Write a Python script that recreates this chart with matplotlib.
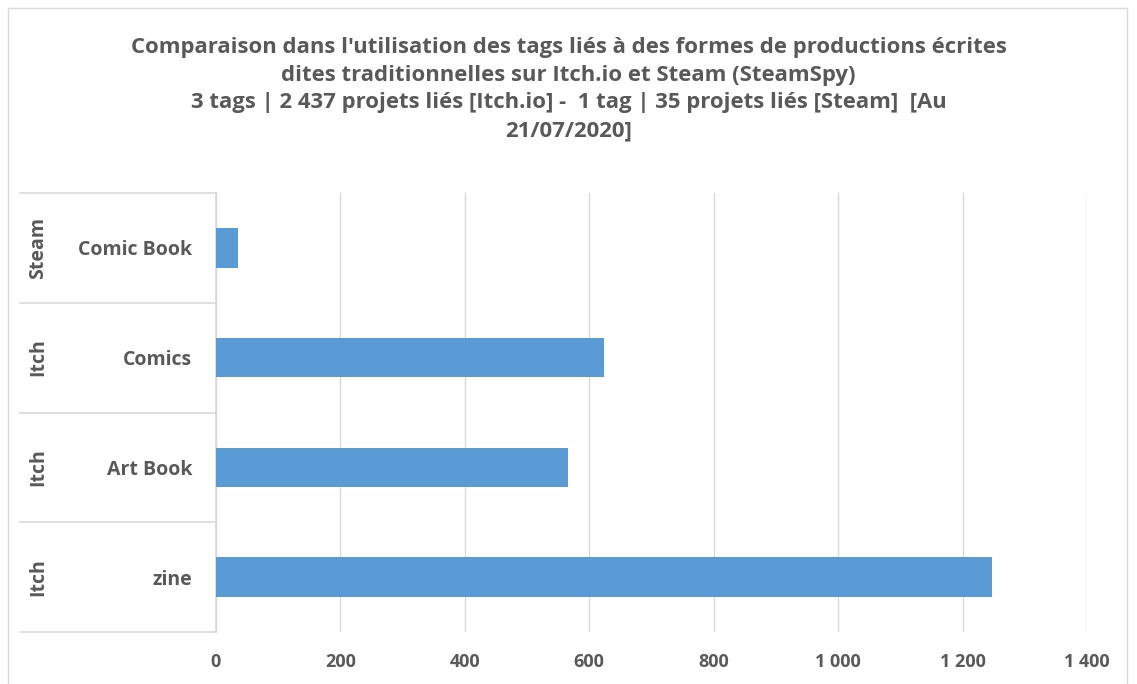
import numpy as np
import matplotlib.pyplot as plt
from matplotlib.patches import Rectangle
from matplotlib.ticker import FuncFormatter
import matplotlib.transforms as mtransforms

plt.rcParams['font.family'] = ['Liberation Sans Narrow', 'Open Sans', 'DejaVu Sans']

# data (bottom to top, as drawn)
tags = ["zine", "Art Book", "Comics", "Comic Book"]
platforms = ["Itch", "Itch", "Itch", "Steam"]
projects = [1248, 566, 623, 35]

title = ("Comparaison dans l'utilisation des tags liés à des formes de productions écrites\n"
         "dites traditionnelles sur Itch.io et Steam (SteamSpy)\n"
         "3 tags | 2 437 projets liés [Itch.io] -  1 tag | 35 projets liés [Steam]  [Au\n"
         "21/07/2020]")

txt = "#595959"
grid = "#d9d9d9"

fig = plt.figure(figsize=(11.37, 6.84), dpi=100)
fig.patches.append(Rectangle((8 / 1137, -0.01), 1119 / 1137, 1 - 8 / 684 + 0.01,
                             transform=fig.transFigure, fill=False,
                             edgecolor=grid, linewidth=1))

ax = fig.add_axes([216 / 1137, 1 - 632 / 684, (1087 - 216) / 1137, (632 - 193) / 684])
y = np.arange(len(tags))
ax.barh(y, projects, height=0.36, color="#5b9bd5", zorder=3)

ax.set_xlim(0, 1400)
ax.set_ylim(-0.5, len(tags) - 0.5)
ax.set_xticks(np.arange(0, 1401, 200))
ax.xaxis.set_major_formatter(FuncFormatter(lambda v, p: f"{int(v):,}".replace(",", " ")))
ax.grid(axis="x", color=grid, linewidth=1, zorder=0)
ax.tick_params(axis="x", length=0, pad=15, labelsize=13, labelcolor=txt)
for lab in ax.get_xticklabels():
    lab.set_fontweight("bold")

ax.set_yticks(y)
ax.set_yticklabels(tags, fontsize=14, fontweight="bold", color=txt)
ax.tick_params(axis="y", length=0, pad=17)

for s in ["top", "right", "bottom"]:
    ax.spines[s].set_visible(False)
ax.spines["left"].set_color(grid)
ax.spines["left"].set_linewidth(1.2)

# multi-level category axis: separators and outer labels
tr = mtransforms.blended_transform_factory(ax.transAxes, ax.transData)
x_left = (20 - 216) / (1087 - 216)
for b in np.arange(-0.5, len(tags), 1.0):
    ax.plot([x_left, 0], [b, b], color=grid, linewidth=1.2, transform=tr, clip_on=False)
x_outer = (38 - 216) / (1087 - 216)
for yi, pl in zip(y, platforms):
    ax.text(x_outer, yi, pl, transform=tr, rotation=90, ha="center", va="center",
            fontsize=14, fontweight="bold", color=txt)

fig.text(0.5, 1 - 37 / 684, title, ha="center", va="top", fontsize=15.9,
         fontweight="bold", color=txt, linespacing=1.42)

fig.savefig("out.png", dpi=100)
